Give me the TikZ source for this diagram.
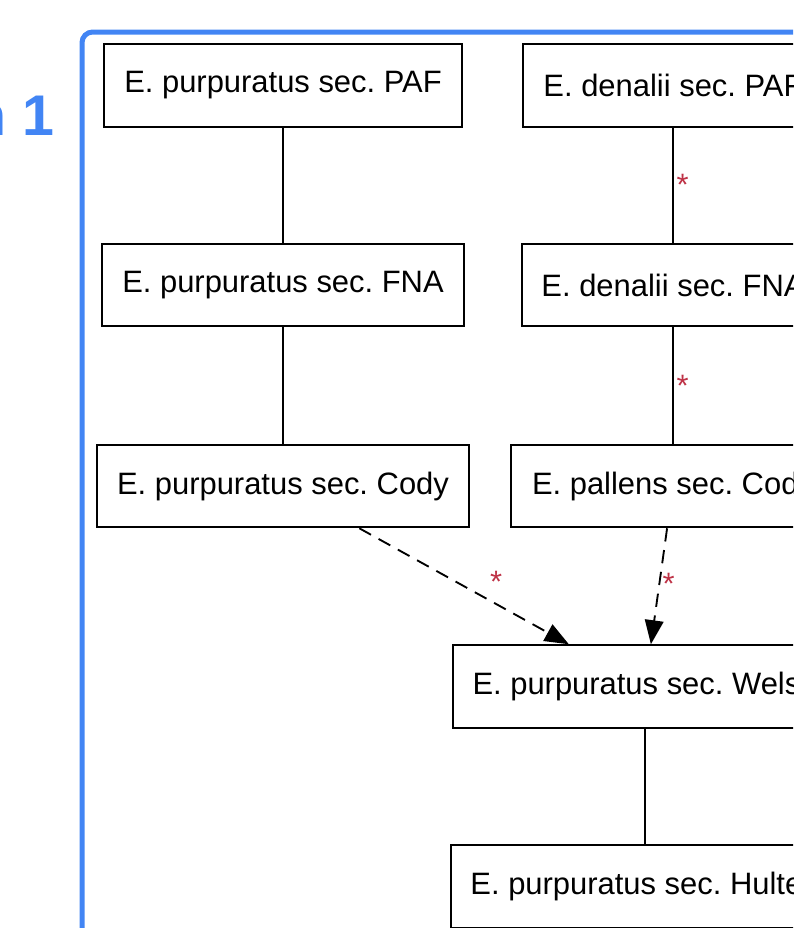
\documentclass[tikz,border=0pt]{standalone}
\usepackage{fontspec}
\setmainfont{Liberation Sans}
\usetikzlibrary{arrows.meta}
\definecolor{frameblue}{RGB}{66,133,244}
\definecolor{starred}{RGB}{190,50,70}
\frenchspacing

\begin{document}
\begin{tikzpicture}[x=0.75pt, y=-0.75pt, line width=1.4pt,
	>={Triangle[length=18pt, width=14pt]},
	every node/.style={font=\fontsize{23.2}{27}\selectfont},
	taxon/.style={draw, fill=white, minimum height=62pt, inner sep=0pt},
	congruent/.style={draw},
	overlap/.style={draw, dash pattern=on 10pt off 6.5pt, ->},
	redstar/.style={text=starred, inner sep=2pt}]
	\useasboundingbox (0,0) rectangle (793,928);
	\clip (0,0) rectangle (793,928);

	% ==================== 外框 ====================
	\draw[frameblue, line width=3.75pt, rounded corners=8pt] (82,32) rectangle (1000,1100);
	\node[anchor=base east, text=frameblue, font=\fontsize{43}{50}\selectfont\bfseries] (tag) at (60,135) {n 1};

	% ==================== 左列 ====================
	\node[taxon, minimum width=268.5pt] (pafP) at (283,85.5) {E. purpuratus sec. PAF};
	\node[taxon, minimum width=271.5pt] (fnaP) at (283,285) {E. purpuratus sec. FNA};
	\node[taxon, minimum width=279pt] (codyP) at (283,486) {E. purpuratus sec. Cody};

	% ==================== 右列 ====================
	\node[taxon, minimum width=225pt] (pafD) at (673,85.5) {E. denalii sec. PAF};
	\node[taxon, minimum width=226.5pt] (fnaD) at (673,285) {E. denalii sec. FNA};
	\node[taxon, minimum width=243pt] (codyPal) at (673,486) {E. pallens sec. Cody};

	% ==================== 下方 ====================
	\node[taxon, minimum width=288pt] (welshP) at (645,686.5) {E. purpuratus sec. Welsh};
	\node[taxon, minimum width=291pt] (hultenP) at (645,886.5) {E. purpuratus sec. Hulten};

	% 连线
	\draw[congruent] (pafP) -- (fnaP);
	\draw[congruent] (fnaP) -- (codyP);
	\draw[congruent] (pafD) -- node[redstar, right] (s1) {*} (fnaD);
	\draw[congruent] (fnaD) -- node[redstar, right] (s2) {*} (codyPal);
	\draw[overlap] (codyP) -- node[redstar, xshift=24pt, yshift=3pt] (s3) {*} (welshP);
	\draw[overlap] (codyPal) -- node[redstar, right, yshift=2pt] (s4) {*} (welshP);
	\draw[congruent] (welshP) -- (hultenP);
\end{tikzpicture}
\end{document}
